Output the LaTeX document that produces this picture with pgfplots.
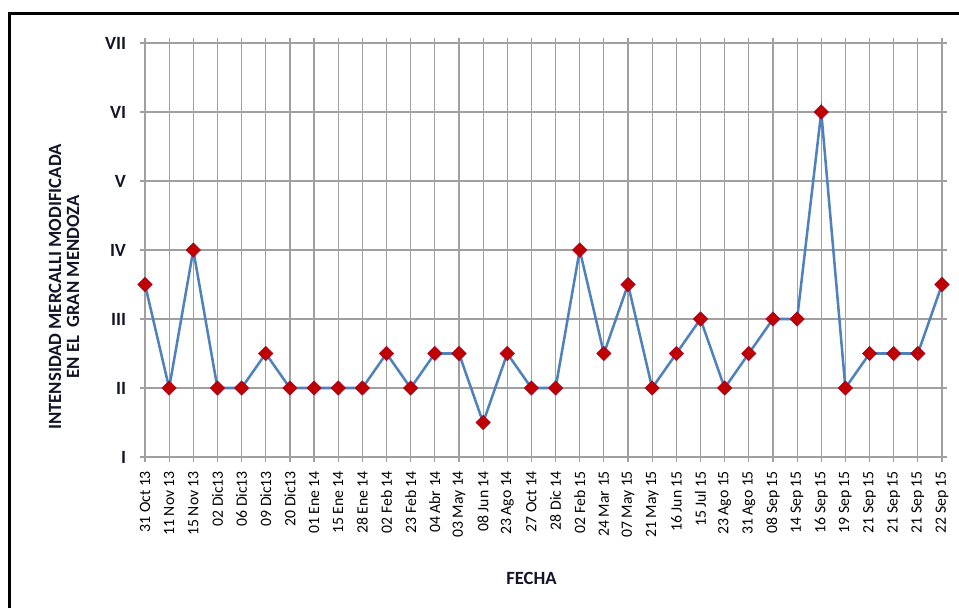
\documentclass[border=0pt]{standalone}
\usepackage{pgfplots}
\pgfplotsset{compat=1.18}
\usepackage{fontspec}
\setmainfont{Carlito}
\definecolor{gridgray}{RGB}{160,160,160}
\definecolor{lineblue}{RGB}{79,129,189}
\definecolor{markred}{RGB}{192,0,0}
\definecolor{labcol}{RGB}{20,20,40}
\begin{document}
\begin{tikzpicture}
\path[use as bounding box] (0,0) rectangle (719.25pt,456pt);
\draw[line width=2.6pt] (7pt,0) -- (7pt,445.9pt) -- (719.25pt,445.9pt);
\begin{axis}[
  at={(108.75pt,113.25pt)}, anchor=south west,
  scale only axis, width=597.75pt, height=310.5pt,
  xmin=0, xmax=33, ymin=1, ymax=7,
  xtick={0,...,33},
  xticklabels={31 Oct 13,11 Nov 13,15 Nov 13,02 Dic13,06 Dic13,09 Dic13,20 Dic13,01 Ene 14,15 Ene 14,28 Ene 14,02 Feb 14,23 Feb 14,04 Abr 14,03 May 14,08 Jun 14,23 Ago 14,27 Oct 14,28 Dic 14,02 Feb 15,24 Mar 15,07 May 15,21 May 15,16 Jun 15,15 Jul 15,23 Ago 15,31 Ago 15,08 Sep 15,14 Sep 15,16 Sep 15,19 Sep 15,21 Sep 15,21 Sep 15,21 Sep 15,22 Sep 15},
  xticklabel style={rotate=90, anchor=east, font=\fontsize{11.8}{13}\selectfont, xshift=-3pt},
  ytick={1,...,7},
  yticklabels={I,II,III,IV,V,VI,VII},
  yticklabel style={font=\bfseries\fontsize{14}{16}\selectfont, text=labcol, xshift=-6.7pt},
  grid=major,
  major grid style={gridgray, line width=0.9pt},
  axis line style={gridgray, line width=0.9pt},
  tick style={gridgray, line width=0.9pt},
  tick align=outside,
  major tick length=4pt,
  xlabel={\bfseries FECHA},
  xlabel style={font=\fontsize{14}{16}\selectfont, text=labcol, xshift=-9pt, yshift=-19pt},
  clip=false,
]
\addplot[color=lineblue, line width=1.9pt, mark=square*, mark size=3.8pt,
  mark options={rotate=45, fill=markred, draw=markred!85!blue, line width=0.4pt}]
  coordinates {
  (0,3.5) (1,2) (2,4) (3,2) (4,2) (5,2.5) (6,2) (7,2) (8,2) (9,2)
  (10,2.5) (11,2) (12,2.5) (13,2.5) (14,1.5) (15,2.5) (16,2) (17,2) (18,4) (19,2.5)
  (20,3.5) (21,2) (22,2.5) (23,3) (24,2) (25,2.5) (26,3) (27,3) (28,6) (29,2)
  (30,2.5) (31,2.5) (32,2.5) (33,3.5)
  };
\end{axis}
\node[rotate=90, align=center, font=\bfseries\fontsize{14}{13.5}\selectfont, text=labcol] at (48pt,240.75pt)
  {INTENSIDAD MERCALLI MODIFICADA\\EN EL\ \ GRAN MENDOZA};
\end{tikzpicture}
\end{document}
